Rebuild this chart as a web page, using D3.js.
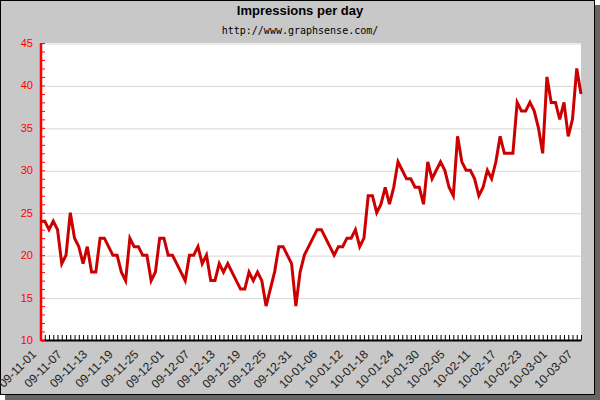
<!DOCTYPE html>
<html><head><meta charset="utf-8">
<script src="https://cdn.jsdelivr.net/npm/d3@7"></script>
<style>html,body{margin:0;padding:0;background:#fff;} svg{display:block;}</style>
</head><body>
<svg id="c" width="600" height="400"></svg>
<script>
const title = "Impressions per day";
const subtitle = "http://www.graphsense.com/";
const startDay = "2009-11-01";
const impressions = [
  24, 24, 23, 24, 23, 19, 20, 25, 22, 21,
  19, 21, 18, 18, 22, 22, 21, 20, 20, 18,
  17, 22, 21, 21, 20, 20, 17, 18, 22, 22,
  20, 20, 19, 18, 17, 20, 20, 21, 19, 20,
  17, 17, 19, 18, 19, 18, 17, 16, 16, 18,
  17, 18, 17, 14, 16, 18, 21, 21, 20, 19,
  14, 18, 20, 21, 22, 23, 23, 22, 21, 20,
  21, 21, 22, 22, 23, 21, 22, 27, 27, 25,
  26, 28, 26, 28, 31, 30, 29, 29, 28, 28,
  26, 31, 29, 30, 31, 30, 28, 27, 34, 31,
  30, 30, 29, 27, 28, 30, 29, 31, 34, 32,
  32, 32, 38, 37, 37, 38, 37, 35, 32, 41,
  38, 38, 36, 38, 34, 36, 42, 39
];
const yTicks = [10, 15, 20, 25, 30, 35, 40, 45];
const tickLabels = ["09-11-01","09-11-07","09-11-13","09-11-19","09-11-25","09-12-01",
  "09-12-07","09-12-13","09-12-19","09-12-25","09-12-31","10-01-06","10-01-12",
  "10-01-18","10-01-24","10-01-30","10-02-05","10-02-11","10-02-17","10-02-23",
  "10-03-01","10-03-07"];

const parse = d3.timeParse("%Y-%m-%d");
const fmt = d3.timeFormat("%y-%m-%d");
const days = impressions.map((_, i) => fmt(d3.timeDay.offset(parse(startDay), i)));

const svg = d3.select("#c");
const L = 40, R = 581, T = 43, B = 340;

// shadow + frame
svg.append("rect").attr("x", 5).attr("y", 5).attr("width", 595).attr("height", 395).attr("fill", "#666");
svg.append("rect").attr("x", 0.5).attr("y", 0.5).attr("width", 594).attr("height", 394)
  .attr("fill", "#c8c8c8").attr("stroke", "#000");

// plot area
svg.append("rect").attr("x", L).attr("y", T).attr("width", R - L).attr("height", B - T).attr("fill", "#fff");

const x = d3.scalePoint().domain(days).range([L + 0.5, R]);
const y = d3.scaleLinear().domain([10, 45]).range([B, T]);

// gridlines
const grid = svg.append("g").attr("transform", `translate(${L},0.5)`)
  .call(d3.axisRight(y).tickValues(yTicks.slice(1)).tickSize(R - L).tickFormat(""));
grid.select(".domain").remove();
grid.selectAll("line").attr("stroke", "#d9d9d9");

// title
svg.append("text").attr("x", 300).attr("y", 15).attr("text-anchor", "middle")
  .attr("font-family", "Liberation Sans, Arial, sans-serif").attr("font-weight", "bold")
  .attr("font-size", 13).attr("fill", "#000").text(title);
svg.append("text").attr("x", 300).attr("y", 34).attr("text-anchor", "middle")
  .attr("font-family", "DejaVu Sans Mono, monospace")
  .attr("font-size", 10).attr("fill", "#000").text(subtitle);

// x axis: ticks every day, pointing up
const xa = svg.append("g").attr("transform", `translate(0,${B})`)
  .call(d3.axisBottom(x).tickSizeInner(-5).tickSizeOuter(0).tickFormat(""));
xa.select(".domain").attr("stroke", "#000").attr("stroke-width", 2);
xa.selectAll(".tick line").attr("stroke", "#000");

// x labels
const xl = svg.append("g").attr("transform", `translate(0,${B})`)
  .call(d3.axisBottom(x).tickValues(tickLabels).tickSize(0).tickFormat(d => d));
xl.select(".domain").remove();
xl.selectAll("text")
  .attr("x", 0).attr("y", 0).attr("dy", 0)
  .attr("transform", "translate(-4,15) rotate(-45)")
  .attr("text-anchor", "end")
  .attr("font-family", "Liberation Sans, Arial, sans-serif")
  .attr("font-size", 12).attr("fill", "#222");

// y axis minor ticks (inside)
const ym = svg.append("g").attr("transform", `translate(${L + 2},0)`)
  .call(d3.axisRight(y).tickValues(d3.range(10, 46)).tickSize(3).tickFormat(""));
ym.select(".domain").remove();
ym.selectAll("line").attr("stroke", "#f00");

// y axis labels + line
const ya = svg.append("g").attr("transform", `translate(${L},0)`)
  .call(d3.axisLeft(y).tickValues(yTicks).tickSize(0).tickPadding(7));
ya.select(".domain").remove();
ya.selectAll("text").attr("font-family", "Liberation Sans, Arial, sans-serif")
  .attr("font-size", 11).attr("fill", "#f00");
svg.append("line").attr("x1", L + 1).attr("x2", L + 1).attr("y1", T).attr("y2", B + 1)
  .attr("stroke", "#f00").attr("stroke-width", 2.5);

// data line
const line = d3.line().x((d, i) => x(days[i])).y(d => y(d));
svg.append("path").datum(impressions).attr("d", line)
  .attr("fill", "none").attr("stroke", "#cc0000").attr("stroke-width", 3)
  .attr("stroke-linejoin", "miter");
</script>
</body></html>
